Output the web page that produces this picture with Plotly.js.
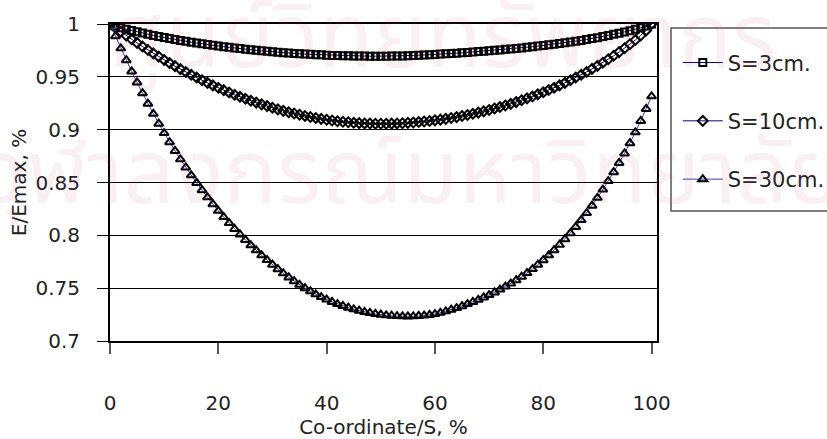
<!DOCTYPE html>
<html>
<head>
<meta charset="utf-8">
<script src="https://cdn.plot.ly/plotly-3.0.1.min.js"></script>
<style>html,body{margin:0;padding:0;background:#fff;}#chart{width:827px;height:439px;}</style>
</head>
<body>
<div id="chart"></div>
<script>
// x coordinate, % of S
const coord = [0,1,2,3,4,5,6,7,8,9,10,11,12,13,14,15,16,17,18,19,20,21,22,23,24,25,26,27,28,29,30,31,32,33,34,35,36,37,38,39,40,41,42,43,44,45,46,47,48,49,50,51,52,53,54,55,56,57,58,59,60,61,62,63,64,65,66,67,68,69,70,71,72,73,74,75,76,77,78,79,80,81,82,83,84,85,86,87,88,89,90,91,92,93,94,95,96,97,98,99,100];

const s3 = [1.0000,.9980,.9965,.9951,.9938,.9926,.9914,.9903,.9892,.9882,
.9872,.9863,.9853,.9845,.9836,.9828,.9820,.9812,.9805,.9798,
.9791,.9785,.9779,.9772,.9767,.9761,.9756,.9751,.9746,.9741,
.9737,.9733,.9729,.9725,.9722,.9718,.9715,.9713,.9710,.9708,
.9705,.9703,.9702,.9700,.9699,.9698,.9697,.9696,.9695,.9695,
.9695,
.9695,.9696,.9697,.9698,.9700,.9702,.9704,.9706,.9709,.9712,
.9715,.9718,.9721,.9724,.9727,.9731,.9735,.9739,.9743,.9747,
.9751,.9755,.9760,.9764,.9769,.9774,.9779,.9785,.9791,.9797,
.9803,.9809,.9815,.9822,.9829,.9837,.9845,.9853,.9862,.9871,
.9881,.9891,.9902,.9913,.9925,.9937,.9950,.9964,.9980,1.0000];

const s10 = [1.0000,.9963,.9926,.9890,.9855,.9821,.9787,.9754,.9722,.9691,
.9660,.9630,.9601,.9573,.9545,.9519,.9493,.9467,.9443,.9419,
.9396,.9374,.9352,.9331,.9311,.9292,.9274,.9256,.9239,.9223,
.9207,.9192,.9178,.9165,.9153,.9141,.9130,.9120,.9110,.9102,
.9094,.9087,.9080,.9075,.9070,.9065,.9062,.9059,.9058,.9056,
.9056,
.9056,.9057,.9059,.9061,.9064,.9068,.9072,.9077,.9082,.9088,
.9095,.9102,.9111,.9119,.9129,.9139,.9150,.9161,.9173,.9186,
.9200,.9214,.9229,.9244,.9261,.9278,.9296,.9314,.9334,.9354,
.9375,.9397,.9419,.9443,.9467,.9493,.9519,.9546,.9575,.9604,
.9634,.9666,.9699,.9734,.9770,.9808,.9848,.9892,.9939,1.0000];

const s30 = [1.0000,.9884,.9770,.9658,.9551,.9447,.9345,.9246,.9150,.9057,
.8968,.8882,.8799,.8719,.8642,.8568,.8496,.8427,.8360,.8295,
.8232,.8173,.8116,.8061,.8008,.7956,.7906,.7858,.7811,.7766,
.7722,.7680,.7640,.7602,.7566,.7532,.7500,.7470,.7442,.7416,
.7392,.7370,.7350,.7332,.7315,.7300,.7287,.7275,.7265,.7256,
.7249,
.7243,.7239,.7236,.7234,.7233,.7234,.7237,.7241,.7247,.7255,
.7267,.7281,.7296,.7312,.7330,.7349,.7369,.7390,.7412,.7435,
.7460,.7487,.7515,.7544,.7575,.7608,.7643,.7681,.7722,.7765,
.7811,.7860,.7911,.7964,.8020,.8080,.8144,.8211,.8281,.8355,
.8433,.8514,.8598,.8685,.8775,.8872,.8975,.9083,.9196,.9316];

const seriesNames = ['S=3cm.', 'S=10cm.', 'S=30cm.'];
const xTickVals = [0, 20, 40, 60, 80, 100];
const xTickText = ['0', '20', '40', '60', '80', '100'];
const yTickVals = [0.7, 0.75, 0.8, 0.85, 0.9, 0.95, 1];
const yTickText = ['0.7', '0.75', '0.8', '0.85', '0.9', '0.95', '1'];
const xTitle = 'Co-ordinate/S, %';
const yTitle = 'E/Emax, %';
const watermark1 = 'ศูนย์วิทยทรัพยากร';
const watermark2 = 'จุฬาลงกรณ์มหาวิทยาลัย';

const FONT = 'DejaVu Sans, Verdana, sans-serif';
const TXT = '#222';
const WM_FONT = 'Noto Sans Thai, Loma, Garuda, Norasi, sans-serif';
const WM_COLOR = 'rgba(200,90,130,0.09)';

function mk(name, y, symbol, lineColor, size, grp) {
  return {
    type: 'scatter', mode: 'lines+markers', name: name, x: coord, y: y,
    legendgroup: grp,
    line: {color: lineColor, width: 1},
    marker: {symbol: symbol, size: size, color: '#000', line: {color: '#000', width: 2}},
    hoverinfo: 'skip'
  };
}

const data = [
  mk(seriesNames[0], s3, 'square-open', '#000080', 7, 'a'),
  mk(seriesNames[1], s10, 'diamond-open', '#000080', 7.5, 'b'),
  mk(seriesNames[2], s30, 'triangle-up-open', '#3a3ab8', 8, 'c')
];

const layout = {
  width: 827, height: 439,
  margin: {l: 110, r: 170, t: 24, b: 98, autoexpand: false},
  paper_bgcolor: '#fff', plot_bgcolor: 'rgba(0,0,0,0)',
  font: {family: FONT, size: 20, color: TXT},
  showlegend: true,
  legend: {
    x: 1.038, y: 0.942, xanchor: 'left', yanchor: 'top',
    bgcolor: 'rgba(0,0,0,0)', borderwidth: 0,
    font: {family: FONT, size: 21, color: TXT},
    tracegroupgap: 28, itemwidth: 40
  },
  xaxis: {
    range: [0, 101], tickmode: 'array', tickvals: xTickVals, ticktext: xTickText,
    showgrid: false, zeroline: false,
    showline: true, linecolor: '#000', linewidth: 2, mirror: true,
    ticks: 'outside', ticklen: 11, tickwidth: 2, tickcolor: '#555',
    ticklabelstandoff: 32,
    tickfont: {family: FONT, size: 20, color: TXT},
    title: {text: xTitle, font: {family: FONT, size: 20, color: TXT}, standoff: 10}
  },
  yaxis: {
    range: [0.7, 1], tickmode: 'array', tickvals: yTickVals, ticktext: yTickText,
    showgrid: true, gridcolor: '#000', gridwidth: 1, zeroline: false,
    showline: true, linecolor: '#000', linewidth: 2, mirror: true,
    ticks: 'outside', ticklen: 11, tickwidth: 1, tickcolor: '#000',
    ticklabelstandoff: 13, automargin: true,
    tickfont: {family: FONT, size: 20, color: TXT},
    title: {text: yTitle, font: {family: FONT, size: 20, color: TXT}, standoff: 3}
  },
  shapes: [{
    type: 'rect', xref: 'paper', yref: 'paper',
    x0: 1.0256, x1: 1.5, y0: 0.41, y1: 0.9874,
    line: {color: '#555', width: 1.5}, fillcolor: 'rgba(0,0,0,0)', layer: 'above'
  }],
  annotations: [
    {text: watermark1, xref: 'paper', yref: 'paper', x: 0.607, y: 0.95, xanchor: 'center', yanchor: 'middle',
     showarrow: false, font: {family: WM_FONT, size: 90, color: WM_COLOR}},
    {text: watermark2, xref: 'paper', yref: 'paper', x: 0.55, y: 0.52, xanchor: 'center', yanchor: 'middle',
     showarrow: false, font: {family: WM_FONT, size: 90, color: WM_COLOR}}
  ]
};

Plotly.newPlot('chart', data, layout, {displayModeBar: false, staticPlot: true});
</script>
</body>
</html>
